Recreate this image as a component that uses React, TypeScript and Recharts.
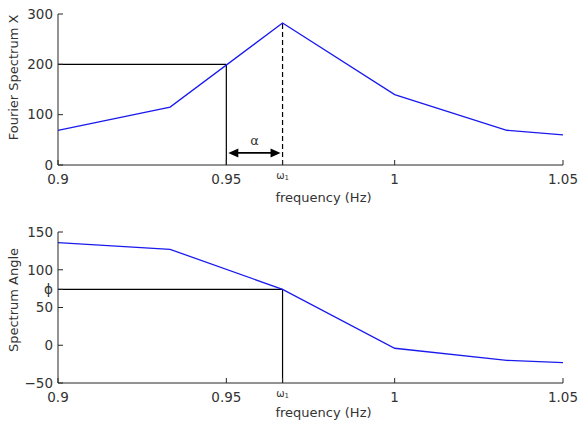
import React from 'react';
import { LineChart, Line, XAxis, YAxis, ReferenceLine } from 'recharts';

// frequency samples (Hz)
const freq = [0.9, 0.9333, 0.9667, 1.0, 1.0333, 1.05];
// Fourier spectrum amplitude
const amplitude = [69, 115, 282, 140, 69, 60];
// spectrum angle
const angle = [136, 127, 74, -4, -20, -23];

const OMEGA1 = 0.9667;
const HALF_FREQ = 0.95;
const HALF_AMP = 200;
const PHI = 74;
const ARROW_Y = 24;

const xTicks = [0.9, 0.95, OMEGA1, 1, 1.05];
const xTopTicks = [0.95, 1];
const ampTicks = [0, 100, 200, 300];
const ampRightTicks = [100, 200];
const angTicks = [-50, 0, 50, PHI, 100, 150];
const angRightTicks = [0, 50, 100];

const ampData = freq.map((f, i) => ({ f, v: amplitude[i] }));
const angData = freq.map((f, i) => ({ f, v: angle[i] }));

const AXIS = '#262626';
const TEXT = '#333';
const BLUE = '#1a1aee';

const XTick = (props: any) => {
  const { x, y, payload } = props;
  if (Math.abs(payload.value - OMEGA1) < 1e-6) {
    return (
      <text x={x} y={y + 5} textAnchor="middle" fill={TEXT} fontSize={10}>
        ω<tspan fontSize={7} dy={1}>1</tspan>
      </text>
    );
  }
  return (
    <text x={x} y={y} dy="0.71em" textAnchor="middle" fill={TEXT} fontSize={13.5}>
      {String(payload.value)}
    </text>
  );
};

const yFormat = (v: number) => (v === PHI ? 'ϕ' : String(v).replace('-', '−'));

const NoTick = () => <g />;

const makeXLabel = (dy: number) => ({ viewBox }: any) => (
  <text x={viewBox.x + viewBox.width / 2 + 13} y={viewBox.y + dy} textAnchor="middle" fill={TEXT} fontSize={13}>
    frequency (Hz)
  </text>
);

const makeYLabel = (text: string, cy: number) => ({ viewBox }: any) => (
  <text
    x={18}
    y={viewBox.y + cy}
    textAnchor="middle"
    fill={TEXT}
    fontSize={13}
    transform={`rotate(-90, 18, ${viewBox.y + cy})`}
  >
    {text}
  </text>
);

const Arrow = (props: any) => {
  const { x1, x2, y1 } = props;
  const a = Math.min(x1, x2) + 2;
  const b = Math.max(x1, x2) - 2;
  return (
    <g>
      <line x1={a + 8} x2={b - 8} y1={y1} y2={y1} stroke="#000" strokeWidth={1.8} />
      <polygon points={`${a},${y1} ${a + 10},${y1 - 4.5} ${a + 10},${y1 + 4.5}`} fill="#000" />
      <polygon points={`${b},${y1} ${b - 10},${y1 - 4.5} ${b - 10},${y1 + 4.5}`} fill="#000" />
      <text x={(a + b) / 2} y={y1 - 8} textAnchor="middle" fill={TEXT} fontSize={13}>
        α
      </text>
    </g>
  );
};

export default function App() {
  return (
    <div style={{ position: 'absolute', left: 0, top: 0, width: 585, height: 421, background: '#fff', fontFamily: '"DejaVu Sans", sans-serif' }}>
      <LineChart width={585} height={210} data={ampData} margin={{ top: 14, right: 22, bottom: 15, left: 0 }}>
        <XAxis
          dataKey="f"
          type="number"
          domain={[0.9, 1.05]}
          ticks={xTicks}
          interval={0}
          height={30}
          stroke={AXIS}
          tickSize={-5}
          tickMargin={14}
          tick={<XTick />}
          label={makeXLabel(37)}
        />
        <XAxis xAxisId="top" orientation="top" dataKey="f" type="number" domain={[0.9, 1.05]} ticks={xTopTicks} height={0} stroke={AXIS} tickSize={-5} tick={NoTick} />
        <YAxis
          domain={[0, 300]}
          ticks={ampTicks}
          interval={0}
          width={58}
          stroke={AXIS}
          tickSize={-5}
          tickMargin={10}
          tick={{ fill: TEXT, fontSize: 13.5 }}
          tickFormatter={yFormat}
          label={makeYLabel('Fourier Spectrum X', 63.5)}
        />
        <YAxis yAxisId="right" orientation="right" domain={[0, 300]} ticks={ampRightTicks} width={0} stroke={AXIS} tickSize={-5} tick={NoTick} />
        <ReferenceLine segment={[{ x: 0.9, y: HALF_AMP }, { x: HALF_FREQ, y: HALF_AMP }]} stroke="#000" strokeWidth={1.2} />
        <ReferenceLine segment={[{ x: HALF_FREQ, y: 0 }, { x: HALF_FREQ, y: HALF_AMP }]} stroke="#000" strokeWidth={1.2} />
        <ReferenceLine segment={[{ x: OMEGA1, y: 0 }, { x: OMEGA1, y: 282 }]} stroke="#000" strokeWidth={1.2} strokeDasharray="5 3" />
        <ReferenceLine segment={[{ x: HALF_FREQ, y: ARROW_Y }, { x: OMEGA1, y: ARROW_Y }]} shape={Arrow} />
        <Line type="linear" dataKey="v" stroke={BLUE} strokeWidth={1.3} dot={false} isAnimationActive={false} />
      </LineChart>
      <LineChart width={585} height={211} data={angData} margin={{ top: 22, right: 22, bottom: 8, left: 0 }}>
        <XAxis
          dataKey="f"
          type="number"
          domain={[0.9, 1.05]}
          ticks={xTicks}
          interval={0}
          height={30}
          stroke={AXIS}
          tickSize={-5}
          tickMargin={14}
          tick={<XTick />}
          label={makeXLabel(34)}
        />
        <XAxis xAxisId="top" orientation="top" dataKey="f" type="number" domain={[0.9, 1.05]} ticks={xTopTicks} height={0} stroke={AXIS} tickSize={-5} tick={NoTick} />
        <YAxis
          domain={[-50, 150]}
          ticks={angTicks}
          interval={0}
          width={58}
          stroke={AXIS}
          tickSize={-5}
          tickMargin={10}
          tick={{ fill: TEXT, fontSize: 13.5 }}
          tickFormatter={yFormat}
          label={makeYLabel('Spectrum Angle', 68)}
        />
        <YAxis yAxisId="right" orientation="right" domain={[-50, 150]} ticks={angRightTicks} width={0} stroke={AXIS} tickSize={-5} tick={NoTick} />
        <ReferenceLine segment={[{ x: 0.9, y: PHI }, { x: OMEGA1, y: PHI }]} stroke="#000" strokeWidth={1.2} />
        <ReferenceLine segment={[{ x: OMEGA1, y: -50 }, { x: OMEGA1, y: PHI }]} stroke="#000" strokeWidth={1.2} />
        <Line type="linear" dataKey="v" stroke={BLUE} strokeWidth={1.3} dot={false} isAnimationActive={false} />
      </LineChart>
    </div>
  );
}
